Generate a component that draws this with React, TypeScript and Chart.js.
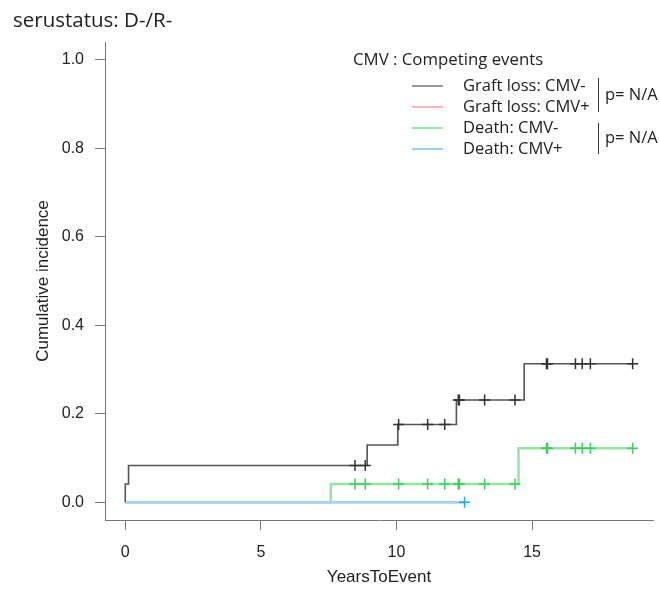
import React, { useEffect, useRef } from "react";
import { Chart, registerables } from "chart.js";

Chart.register(...registerables);

const chartTitle = "serustatus: D-/R-";
const legendTitle = "CMV : Competing events";
const seriesNames = ["Graft loss: CMV-", "Graft loss: CMV+", "Death: CMV-", "Death: CMV+"];
const pValueLabels = ["p= N/A", "p= N/A"];
const xAxisTitle = "YearsToEvent";
const yAxisTitle = "Cumulative incidence";
const xTicks = [0, 5, 10, 15];
const yTicks = [0, 0.2, 0.4, 0.6, 0.8, 1.0];

// Graft loss, CMV- : step function (event times, cumulative incidence after step)
const graftNegTimes = [0, 0, 0.12, 8.92, 10.05, 12.21, 14.71, 18.71];
const graftNegCI = [0, 0.0414, 0.083, 0.1295, 0.1758, 0.2311, 0.3131, 0.3131];

// Graft loss, CMV+
const graftPosTimes = [0, 12.51];
const graftPosCI = [0, 0];

// Death, CMV-
const deathNegTimes = [0, 7.58, 14.5, 18.71];
const deathNegCI = [0, 0.0414, 0.122, 0.122];

// Death, CMV+
const deathPosTimes = [0, 12.51];
const deathPosCI = [0, 0];

// censoring times
const negCensorTimes = [8.47, 8.85, 10.08, 11.15, 11.78, 12.28, 12.32, 13.25, 14.37, 15.53, 15.57, 16.6, 16.85, 17.15, 18.71];
const posCensorTimes = [12.51];

const colors = {
  graftNeg: "#555555",
  graftNegMark: "#333333",
  graftPos: "#ffb3bd",
  graftPosMark: "#ff8f9e",
  deathNeg: "#97e3a5",
  deathNegMark: "#3fcc5f",
  deathPos: "#9ed6f3",
  deathPosMark: "#1aa9e2",
};
const legendColors = ["#9a9a9a", "#ffb3bd", "#9fe6ab", "#92d2f3"];

function toPoints(ts: number[], vs: number[]) {
  return ts.map((t, i) => ({ x: t, y: vs[i] }));
}
function stepValue(ts: number[], vs: number[], t: number) {
  let v = vs[0];
  for (let i = 0; i < ts.length; i++) if (ts[i] <= t) v = vs[i];
  return v;
}
function censorPoints(cts: number[], ts: number[], vs: number[]) {
  return cts.map((t) => ({ x: t, y: stepValue(ts, vs, t) }));
}

const TICK_FONT = { family: "'Liberation Sans', Arial, sans-serif", size: 16 };
const TITLE_FONT = { family: "'Liberation Sans', Arial, sans-serif", size: 17 };
const UI_FONT = "'Open Sans', 'Noto Sans', sans-serif";

const decorPlugin = {
  id: "decor",
  afterDraw(chart: any) {
    const ctx = chart.ctx;
    ctx.save();
    ctx.fillStyle = "#222";
    ctx.textBaseline = "middle";
    ctx.textAlign = "left";
    ctx.font = `20.5px ${UI_FONT}`;
    ctx.fillText(chartTitle, 13, 21);

    ctx.font = `16.8px ${UI_FONT}`;
    ctx.fillText(legendTitle, 353, 60);
    ctx.font = `16.5px ${UI_FONT}`;
    const rows = [86, 107, 128, 149];
    seriesNames.forEach((name, i) => {
      ctx.strokeStyle = legendColors[i];
      ctx.lineWidth = 2;
      ctx.beginPath();
      ctx.moveTo(412, rows[i]);
      ctx.lineTo(443, rows[i]);
      ctx.stroke();
      ctx.fillStyle = "#222";
      ctx.fillText(name, 463, rows[i]);
    });
    ctx.strokeStyle = "#333";
    ctx.lineWidth = 1;
    [[78, 112], [123, 154]].forEach(([a, b], i) => {
      ctx.beginPath();
      ctx.moveTo(598.5, a);
      ctx.lineTo(598.5, b);
      ctx.stroke();
      ctx.fillText(pValueLabels[i], 605, (a + b) / 2);
    });
    ctx.restore();
  },
};

export default function App() {
  const ref = useRef<HTMLCanvasElement | null>(null);
  useEffect(() => {
    if (!ref.current) return;
    const lineDs = (label: string, pts: any[], color: string, width: number, order: number) => ({
      type: "line" as const,
      label,
      data: pts,
      borderColor: color,
      backgroundColor: color,
      borderWidth: width,
      stepped: "before" as const,
      pointRadius: 0,
      fill: false,
      order,
    });
    const markDs = (label: string, pts: any[], color: string, order: number) => ({
      type: "scatter" as const,
      label,
      data: pts,
      borderColor: color,
      backgroundColor: color,
      pointStyle: "cross",
      pointRadius: 5.5,
      pointBorderWidth: 1.5,
      showLine: false,
      order,
    });
    const chart = new Chart(ref.current, {
      type: "scatter",
      data: {
        datasets: [
          markDs("gn-c", censorPoints(negCensorTimes, graftNegTimes, graftNegCI), colors.graftNegMark, 0),
          markDs("dn-c", censorPoints(negCensorTimes, deathNegTimes, deathNegCI), colors.deathNegMark, 1),
          markDs("dp-c", censorPoints(posCensorTimes, deathPosTimes, deathPosCI), colors.deathPosMark, 2),
          lineDs(seriesNames[0], toPoints(graftNegTimes, graftNegCI), colors.graftNeg, 1.6, 3),
          lineDs(seriesNames[3], toPoints(deathPosTimes, deathPosCI), colors.deathPos, 2.5, 4),
          lineDs(seriesNames[1], toPoints(graftPosTimes, graftPosCI), colors.graftPos, 2.5, 5),
          lineDs(seriesNames[2], toPoints(deathNegTimes, deathNegCI), colors.deathNeg, 2.5, 6),
        ] as any,
      },
      options: {
        animation: false,
        responsive: false,
        devicePixelRatio: 1,
        layout: { padding: { top: 42, right: 4, left: 0, bottom: 0 } },
        plugins: { legend: { display: false }, tooltip: { enabled: false }, title: { display: false } },
        scales: {
          x: {
            type: "linear",
            min: -0.748,
            max: 19.46,
            afterBuildTicks: (s: any) => {
              s.ticks = xTicks.map((v) => ({ value: v }));
            },
            afterFit: (s: any) => {
              s.height = 69;
            },
            ticks: {
              font: TICK_FONT,
              color: "#222",
              padding: 13,
              maxRotation: 0,
              callback: (v: any) => String(v),
            },
            grid: { drawOnChartArea: false, drawTicks: true, tickLength: 10, color: "#777", lineWidth: 1 },
            border: { display: true, color: "#777", width: 1 },
            title: { display: true, text: xAxisTitle, font: TITLE_FONT, color: "#222", padding: { top: 0, bottom: 1 } },
          },
          y: {
            type: "linear",
            min: -0.04,
            max: 1.04,
            afterBuildTicks: (s: any) => {
              s.ticks = yTicks.map((v) => ({ value: v }));
            },
            afterFit: (s: any) => {
              s.width = 105;
            },
            ticks: {
              font: TICK_FONT,
              color: "#222",
              padding: 11,
              callback: (v: any) => Number(v).toFixed(1),
            },
            grid: { drawOnChartArea: false, drawTicks: true, tickLength: 10, color: "#777", lineWidth: 1 },
            border: { display: true, color: "#777", width: 1 },
            title: { display: true, text: yAxisTitle, font: TITLE_FONT, color: "#222", padding: { top: 33, bottom: 0 } },
          },
        },
      } as any,
      plugins: [decorPlugin],
    });
    return () => chart.destroy();
  }, []);
  return (
    <div style={{ position: "absolute", left: 0, top: 0, width: 660, height: 589, background: "#fff" }}>
      <canvas ref={ref} width={660} height={589} style={{ display: "block" }} />
    </div>
  );
}
